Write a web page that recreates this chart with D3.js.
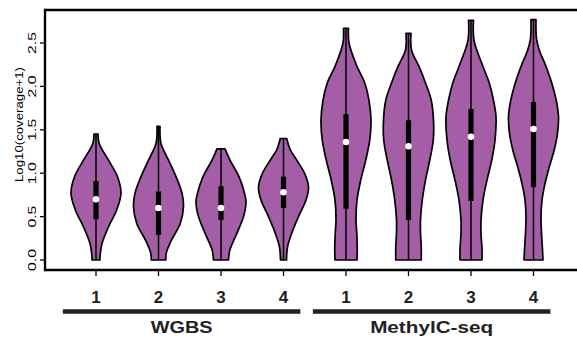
<!DOCTYPE html>
<html>
<head>
<meta charset="utf-8">
<script src="https://cdn.jsdelivr.net/npm/d3@7"></script>
<style>
  body { margin: 0; background: #fff; }
  svg { display: block; font-family: "Liberation Sans", Arial, sans-serif; }
</style>
</head>
<body>
<div id="chart"></div>
<script>
// ------------------------------------------------------------
// Data
// ------------------------------------------------------------
const groups = ["WGBS", "MethylC-seq"];
const sampleLabels = ["1", "2", "3", "4", "1", "2", "3", "4"];

// summary stats per violin, log10(coverage+1)
const mins    = [0, 0, 0, 0, 0, 0, 0, 0];
const q1s     = [0.47, 0.29, 0.46, 0.60, 0.59, 0.46, 0.68, 0.84];
const medians = [0.70, 0.60, 0.60, 0.78, 1.36, 1.31, 1.42, 1.51];
const q3s     = [0.91, 0.79, 0.85, 0.96, 1.68, 1.61, 1.74, 1.82];
const maxs    = [1.45, 1.54, 1.28, 1.40, 2.67, 2.61, 2.76, 2.77];

// density outlines: [value, relative half-width]
const wgbs1 = [[0,0.16],[0.04,0.16],[0.19,0.24],[0.38,0.5],[0.58,0.83],[0.77,1.0],[0.96,0.86],[1.15,0.5],[1.34,0.13],[1.45,0.08]];
const wgbs2 = [[0,0.29],[0.08,0.31],[0.23,0.52],[0.42,0.87],[0.62,1.0],[0.77,0.94],[0.96,0.7],[1.15,0.4],[1.34,0.1],[1.45,0.06],[1.54,0.06]];
const wgbs3 = [[0,0.3],[0.12,0.36],[0.31,0.64],[0.5,0.9],[0.67,1.0],[0.77,0.94],[0.96,0.72],[1.15,0.36],[1.28,0.16]];
const wgbs4 = [[0,0.12],[0.15,0.16],[0.31,0.33],[0.5,0.6],[0.69,0.9],[0.84,1.0],[1.0,0.84],[1.15,0.53],[1.27,0.27],[1.40,0.13]];
const meth1 = [[0,0.44],[0.12,0.45],[0.31,0.43],[0.46,0.4],[0.69,0.44],[0.92,0.59],[1.15,0.79],[1.38,0.95],[1.61,1.0],[1.84,0.92],[2.04,0.75],[2.23,0.44],[2.5,0.12],[2.67,0.1]];
const meth2 = [[0,0.51],[0.15,0.51],[0.31,0.48],[0.46,0.48],[0.69,0.55],[0.92,0.68],[1.15,0.85],[1.38,0.99],[1.61,1.0],[1.84,0.91],[2.04,0.68],[2.23,0.42],[2.42,0.12],[2.61,0.1]];
const meth3 = [[0,0.44],[0.12,0.44],[0.31,0.4],[0.46,0.4],[0.69,0.48],[0.92,0.64],[1.15,0.83],[1.38,0.96],[1.65,1.0],[1.84,0.9],[2.04,0.73],[2.23,0.48],[2.53,0.12],[2.76,0.1]];
const meth4 = [[0,0.38],[0.12,0.36],[0.31,0.32],[0.5,0.3],[0.69,0.34],[0.88,0.46],[1.07,0.63],[1.27,0.83],[1.46,0.96],[1.65,1.0],[1.84,0.91],[2.04,0.73],[2.23,0.5],[2.42,0.23],[2.55,0.12],[2.77,0.1]];
const profiles = [wgbs1, wgbs2, wgbs3, wgbs4, meth1, meth2, meth3, meth4];

const yTicks = [0, 0.5, 1.0, 1.5, 2.0, 2.5];

// ------------------------------------------------------------
// Dimensions and scales
// ------------------------------------------------------------
const width = 577, height = 338;
const fillColor = "#a45ea6";

const x = d3.scaleLinear().domain([0.184, 8.816]).range([45, 584.5]);
const y = d3.scaleLinear().domain([-0.115, 2.88]).range([270, 10]);
const halfW = d3.scaleLinear().domain([0, 1]).range([0, 25]);

const svg = d3.select("#chart").append("svg")
    .attr("width", width)
    .attr("height", height);

// ------------------------------------------------------------
// Violins
// ------------------------------------------------------------
const violinG = svg.append("g");
profiles.forEach((prof, i) => {
    const cx = x(i + 1);
    const area = d3.area()
        .y(d => y(d[0]))
        .x0(d => cx - halfW(d[1]))
        .x1(d => cx + halfW(d[1]))
        .curve(d3.curveCatmullRom);
    violinG.append("path")
        .datum(prof)
        .attr("d", area)
        .attr("fill", fillColor)
        .attr("stroke", "#000")
        .attr("stroke-width", 1.7)
        .attr("stroke-linejoin", "round");

    // whisker line (full range)
    violinG.append("line")
        .attr("x1", cx).attr("x2", cx)
        .attr("y1", y(mins[i])).attr("y2", y(maxs[i]))
        .attr("stroke", "#000")
        .attr("stroke-width", 1.5);

    // IQR box
    violinG.append("rect")
        .attr("x", cx - 2.6)
        .attr("width", 5.2)
        .attr("y", y(q3s[i]))
        .attr("height", y(q1s[i]) - y(q3s[i]))
        .attr("fill", "#000");

    // median
    violinG.append("circle")
        .attr("cx", cx)
        .attr("cy", y(medians[i]))
        .attr("r", 3.3)
        .attr("fill", "#fff");
});

// ------------------------------------------------------------
// Axes / frame
// ------------------------------------------------------------
const frame = svg.append("g").attr("stroke", "#000").attr("stroke-width", 2.4);
frame.append("line").attr("x1", x.range()[0]).attr("x2", x.range()[1]).attr("y1", y.range()[1]).attr("y2", y.range()[1]);
frame.append("line").attr("x1", x.range()[0]).attr("x2", x.range()[1]).attr("y1", y.range()[0]).attr("y2", y.range()[0]);
frame.append("line").attr("x1", x.range()[0]).attr("x2", x.range()[0]).attr("y1", y.range()[1] - 1.2).attr("y2", y.range()[0] + 1.2);

// y ticks (labels are stretched along their run, as in the reference)
const yAxis = svg.append("g");
yTicks.forEach(t => {
    yAxis.append("line")
        .attr("x1", 40).attr("x2", 45)
        .attr("y1", y(t)).attr("y2", y(t))
        .attr("stroke", "#000").attr("stroke-width", 1.3);
    yAxis.append("text")
        .attr("transform", `translate(36,${y(t)}) rotate(-90)`)
        .attr("text-anchor", "middle")
        .attr("textLength", 22)
        .attr("lengthAdjust", "spacingAndGlyphs")
        .style("font-size", "11.5px")
        .text(t.toFixed(1));
});

svg.append("text")
    .attr("transform", "translate(22.5,124.5) rotate(-90)")
    .attr("text-anchor", "middle")
    .attr("textLength", 115)
    .attr("lengthAdjust", "spacingAndGlyphs")
    .style("font-size", "11px")
    .text("Log10(coverage+1)");

// x ticks and labels
sampleLabels.forEach((lab, i) => {
    svg.append("line")
        .attr("x1", x(i + 1)).attr("x2", x(i + 1))
        .attr("y1", 271).attr("y2", 276)
        .attr("stroke", "#000").attr("stroke-width", 1.3);
    svg.append("text")
        .attr("x", x(i + 1))
        .attr("y", 302.5)
        .attr("text-anchor", "middle")
        .style("font-size", "17px")
        .style("font-weight", "bold")
        .style("fill", "#222")
        .text(lab);
});

// group bars and names
const groupTextLen = [62, 123];
groups.forEach((g, gi) => {
    const offset = gi * 4;
    svg.append("line")
        .attr("x1", x(offset + 0.47)).attr("x2", x(offset + 4.27))
        .attr("y1", 311.5).attr("y2", 311.5)
        .attr("stroke", "#222").attr("stroke-width", 4.5);
    svg.append("text")
        .attr("x", x(offset + 2.37))
        .attr("y", 332.5)
        .attr("text-anchor", "middle")
        .attr("textLength", groupTextLen[gi])
        .attr("lengthAdjust", "spacingAndGlyphs")
        .style("font-size", "17px")
        .style("font-weight", "bold")
        .style("fill", "#222")
        .text(g);
});
</script>
</body>
</html>
